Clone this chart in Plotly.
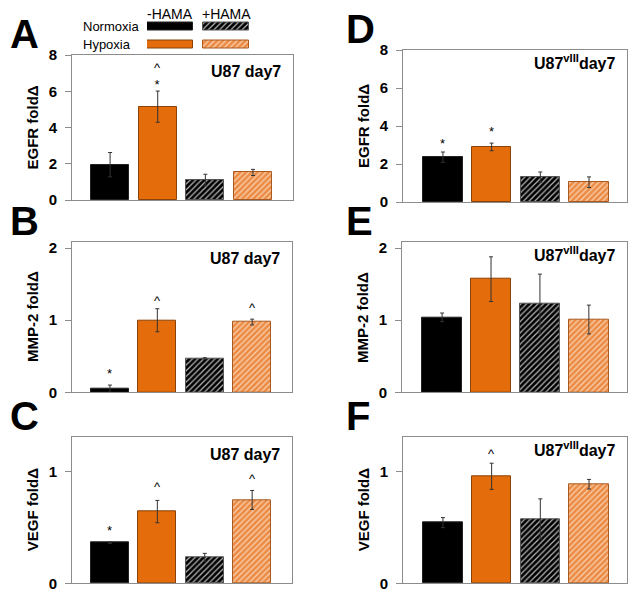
import plotly.graph_objects as go

W, H = 637, 597

conditions = ["Normoxia -HAMA", "Hypoxia -HAMA", "Normoxia +HAMA", "Hypoxia +HAMA"]

# Panel values (fold change) and error bars
egfr_u87 = [1.95, 5.15, 1.10, 1.52]
egfr_u87_err = [0.67, 0.86, 0.32, 0.17]
mmp2_u87 = [0.05, 1.00, 0.47, 0.975]
mmp2_u87_err = [0.05, 0.16, 0.01, 0.04]
vegf_u87 = [0.364, 0.642, 0.233, 0.746]
vegf_u87_err = [0.006, 0.10, 0.035, 0.085]
egfr_viii = [2.36, 2.90, 1.31, 1.04]
egfr_viii_err = [0.27, 0.20, 0.27, 0.28]
mmp2_viii = [1.04, 1.57, 1.23, 1.01]
mmp2_viii_err = [0.06, 0.31, 0.41, 0.20]
vegf_viii = [0.543, 0.958, 0.576, 0.887]
vegf_viii_err = [0.045, 0.117, 0.18, 0.043]

# significance marks: (bar index, y position, symbol)
marks_A = [(1, 6.84, "^<br>*")]
marks_D = [(0, 3.27, "*"), (1, 3.92, "*")]
marks_B = [(0, 0.31, "*"), (1, 1.33, "^"), (3, 1.23, "^")]
marks_E = []
marks_C = [(0, 0.51, "*"), (1, 0.90, "^"), (3, 0.97, "^")]
marks_F = [(1, 1.20, "^")]

# styles for the four conditions
fill = ["#000000", "#E46C0A", "#000000", "#EB8B45"]
hatch = ["", "", "/", "/"]
hatch_fg = ["#000000", "#E46C0A", "#B8B8B8", "#FAD3B0"]
outline = ["#222222", "#8A4208", "#555555", "#A85A20"]

def px_x(p):
    return p / W

def px_y(p):
    return 1 - p / H

panels = [
    ("A", egfr_u87, egfr_u87_err, marks_A, "EGFR foldΔ", "U87 day7", (72, 293), (55, 200), [0, 8], [0, 2, 4, 6, 8], [-0.8, 3.84]),
    ("B", mmp2_u87, mmp2_u87_err, marks_B, "MMP-2 foldΔ", "U87 day7", (72, 292), (241.7, 392.3), [0, 2.09], [0, 1, 2], [-0.8, 3.84]),
    ("C", vegf_u87, vegf_u87_err, marks_C, "VEGF foldΔ", "U87 day7", (72, 292), (437.3, 583.3), [0, 1.307], [0, 1], [-0.8, 3.84]),
    ("D", egfr_viii, egfr_viii_err, marks_D, "EGFR foldΔ", "U87<sup>vIII</sup>day7", (403, 627), (50, 202), [0, 8], [0, 2, 4, 6, 8], [-0.82, 3.78]),
    ("E", mmp2_viii, mmp2_viii_err, marks_E, "MMP-2 foldΔ", "U87<sup>vIII</sup>day7", (402, 627), (241.7, 392.3), [0, 2.09], [0, 1, 2], [-0.82, 3.78]),
    ("F", vegf_viii, vegf_viii_err, marks_F, "VEGF foldΔ", "U87<sup>vIII</sup>day7", (403, 627), (437.3, 583.3), [0, 1.307], [0, 1], [-0.82, 3.78]),
]

fig = go.Figure()
layout = {}
annotations = []
FONT = "Liberation Sans, Arial, sans-serif"
frame = "#8C8C8C"

for k, (letter, vals, errs, marks, ytitle, title, xd, yd, yr, ticks, xr) in enumerate(panels):
    n = k + 1
    xa = "x" if n == 1 else f"x{n}"
    ya = "y" if n == 1 else f"y{n}"
    xkey = "xaxis" if n == 1 else f"xaxis{n}"
    ykey = "yaxis" if n == 1 else f"yaxis{n}"
    bw = 0.8 if xd[0] < 300 else 0.81
    for i in range(4):
        fig.add_trace(go.Bar(
            x=[i], y=[vals[i]], width=bw, xaxis=xa, yaxis=ya,
            marker=dict(
                color=fill[i],
                line=dict(color=outline[i], width=1),
                pattern=dict(shape=hatch[i], bgcolor=fill[i], fgcolor=hatch_fg[i],
                             size=4, solidity=0.3, fillmode="replace"),
            ),
            error_y=dict(type="data", array=[errs[i]], visible=True,
                         color="#333333", thickness=1, width=2),
            showlegend=False, hoverinfo="skip",
        ))
    layout[xkey] = dict(domain=[px_x(xd[0]), px_x(xd[1])], range=xr, anchor=ya,
                        showticklabels=False, ticks="", showgrid=False, zeroline=False,
                        showline=True, linecolor=frame, linewidth=1, mirror=True,
                        fixedrange=True, automargin=False)
    layout[ykey] = dict(domain=[px_y(yd[1]), px_y(yd[0])], range=yr, anchor=xa,
                        tickvals=ticks, ticks="outside", ticklen=6, tickcolor=frame,
                        ticklabelstandoff=5,
                        tickfont=dict(family=FONT, size=15, color="#000000", weight="bold"),
                        showgrid=False, zeroline=False, showline=True, linecolor=frame,
                        linewidth=1, mirror=True, fixedrange=True, automargin=False)
    for (i, yv, sym) in marks:
        single = "<br>" not in sym
        annotations.append(dict(x=i, y=yv, xref=xa, yref=ya, text=sym, showarrow=False,
                                font=dict(family=FONT, size=13, color="#000000"),
                                xanchor="center", yanchor="middle",
                                yshift=-4 if single else 0))
    annotations.append(dict(x=px_x(xd[1] - 10), y=px_y(yd[0] + (17 if n <= 3 else 12)),
                            xref="paper", yref="paper", text=title, showarrow=False,
                            font=dict(family=FONT, size=16, color="#000000", weight="bold"),
                            xanchor="right", yanchor="middle"))
    annotations.append(dict(x=px_x(xd[0] - 40), y=px_y((yd[0] + yd[1]) / 2),
                            xref="paper", yref="paper", text=ytitle, textangle=-90,
                            showarrow=False,
                            font=dict(family=FONT, size=15, color="#000000", weight="bold"),
                            xanchor="center", yanchor="middle"))
    lx = 8 if n <= 3 else 344
    annotations.append(dict(x=px_x(lx), y=px_y(yd[0] - 21), xref="paper", yref="paper",
                            text=letter, showarrow=False,
                            font=dict(family=FONT, size=40, color="#000000", weight="bold"),
                            xanchor="left", yanchor="middle"))

# Legend drawn as a tiny bar panel
leg_rows = ["Normoxia", "Hypoxia"]
leg_cols = ["-HAMA", "+HAMA"]
leg_row_pos = [1, 0]
leg_col_base = [0, 1.217]
leg_style = {(0, 0): 0, (1, 0): 1, (0, 1): 2, (1, 1): 3}
for r in range(2):
    for c in range(2):
        i = leg_style[(r, c)]
        fig.add_trace(go.Bar(
            y=[leg_row_pos[r]], x=[1.0], base=[leg_col_base[c]], orientation="h", width=0.39,
            xaxis="x7", yaxis="y7",
            marker=dict(color=fill[i], line=dict(color=outline[i], width=1),
                        pattern=dict(shape=hatch[i], bgcolor=fill[i], fgcolor=hatch_fg[i],
                                     size=4, solidity=0.3, fillmode="replace")),
            showlegend=False, hoverinfo="skip"))
layout["xaxis7"] = dict(domain=[px_x(147), px_x(249)], range=[0, 2.217], anchor="y7",
                        visible=False, fixedrange=True, automargin=False)
layout["yaxis7"] = dict(domain=[px_y(53.5), px_y(17.5)], range=[-0.5, 1.5], anchor="x7",
                        visible=False, fixedrange=True, automargin=False)
for r in range(2):
    annotations.append(dict(x=px_x(81), y=leg_row_pos[r], xref="paper", yref="y7",
                            text=leg_rows[r], showarrow=False, xanchor="left", yanchor="middle",
                            font=dict(family=FONT, size=13, color="#000000")))
for c in range(2):
    annotations.append(dict(x=leg_col_base[c] + 0.5, y=px_y(14), xref="x7", yref="paper",
                            text=leg_cols[c], showarrow=False, xanchor="center", yanchor="middle",
                            font=dict(family=FONT, size=14, color="#000000")))

fig.update_layout(
    width=W, height=H, autosize=False,
    margin=dict(l=0, r=0, t=0, b=0, autoexpand=False),
    paper_bgcolor="white", plot_bgcolor="white",
    barmode="overlay", bargap=0, showlegend=False,
    annotations=annotations,
    **layout,
)

fig.write_html("out.html", config={"displayModeBar": False},
               post_script="document.body.style.margin='0';document.body.style.padding='0';")
